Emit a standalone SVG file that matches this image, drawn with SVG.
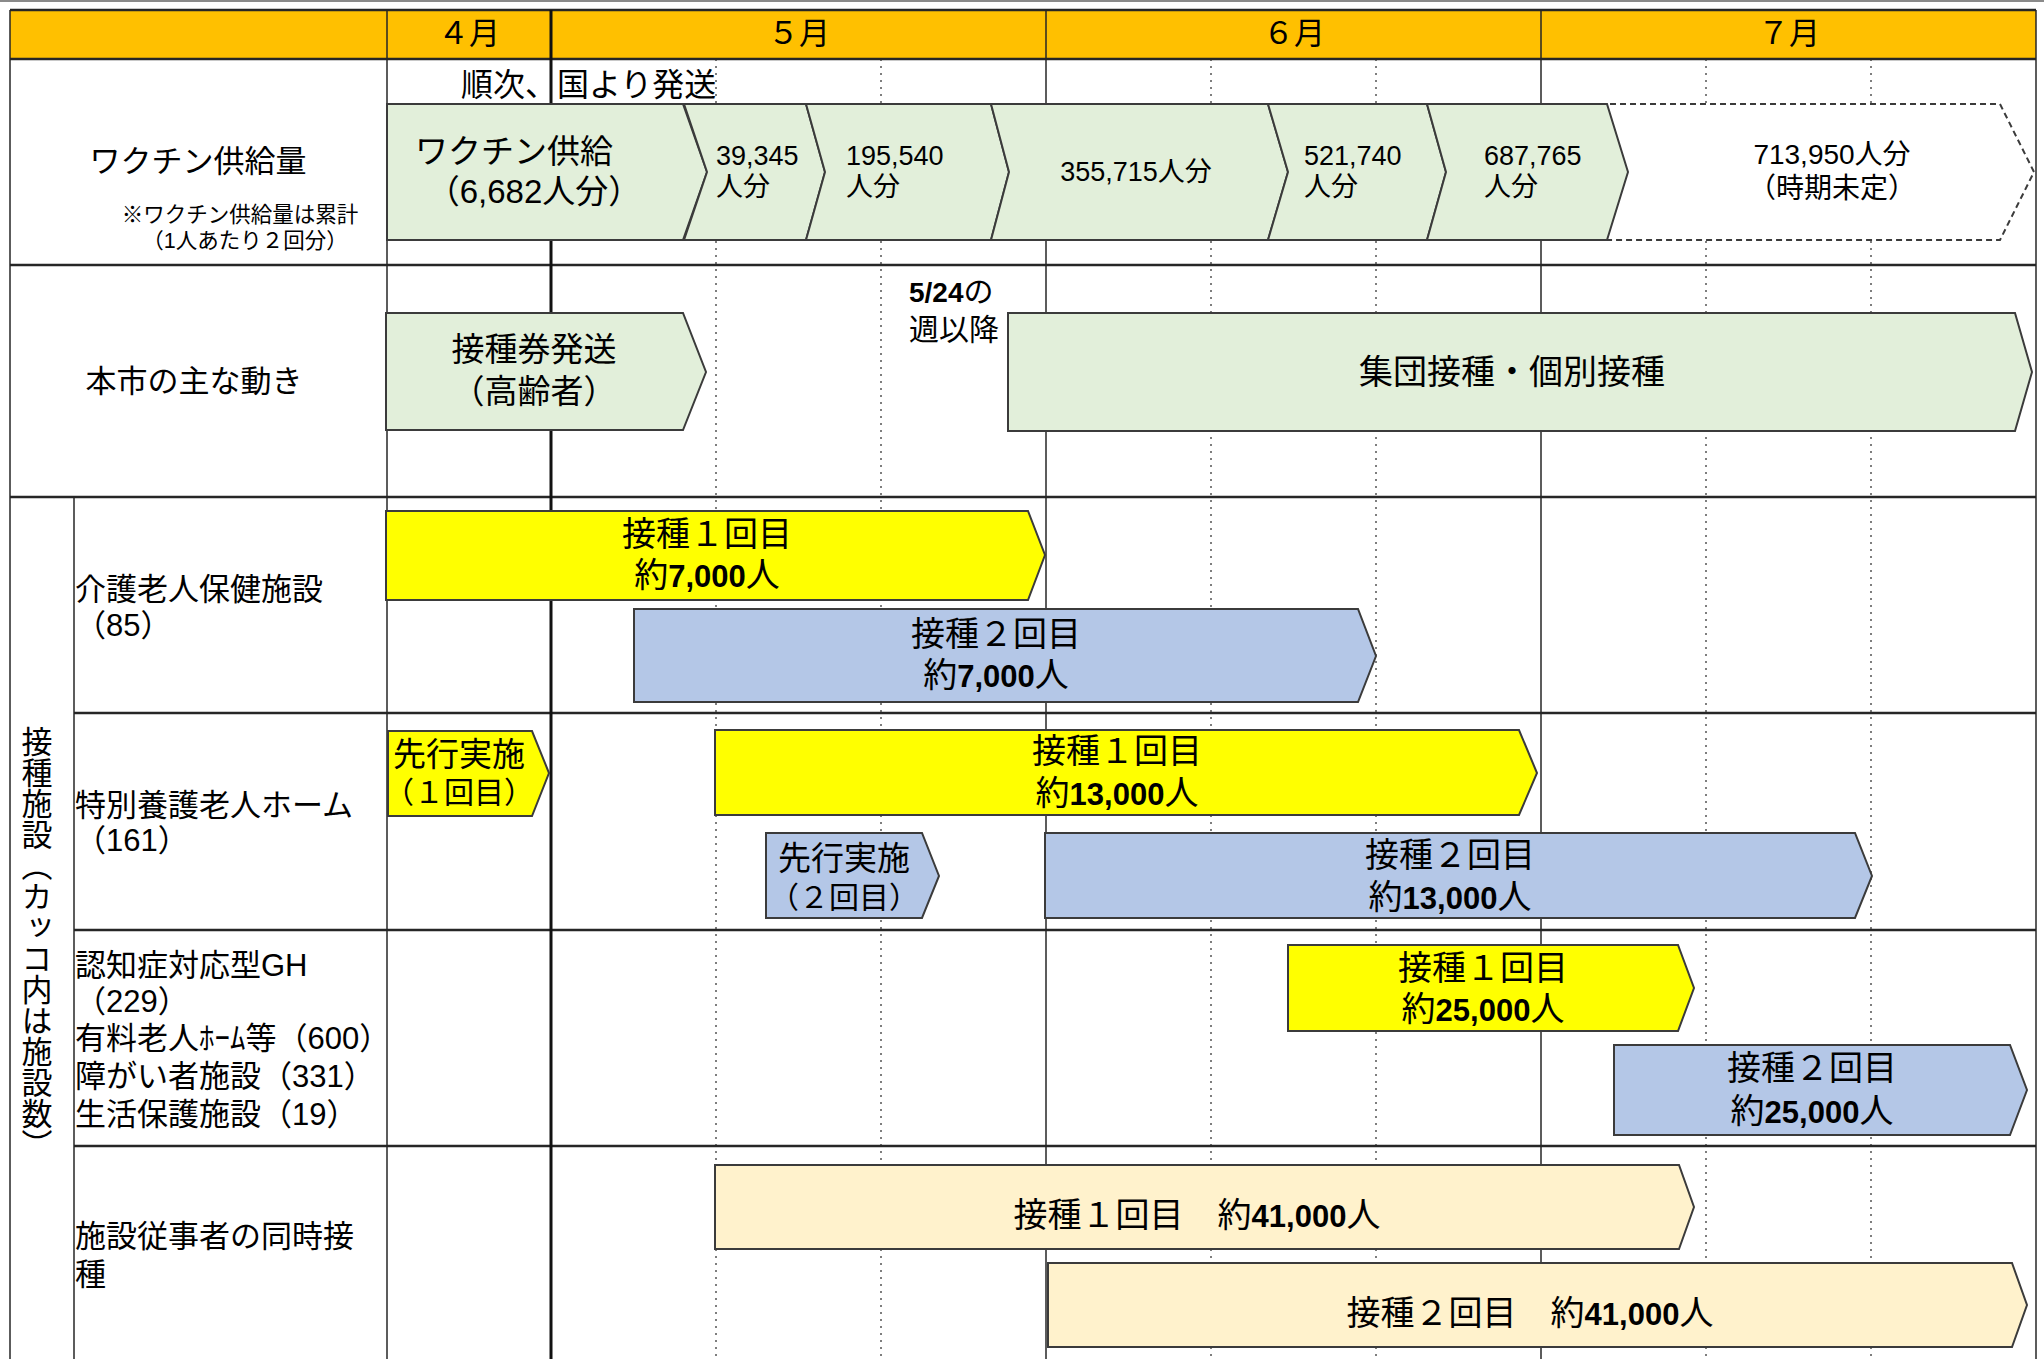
<svg xmlns="http://www.w3.org/2000/svg" width="2044" height="1359" viewBox="0 0 2044 1359">
<style>
text{font-family:"Liberation Sans","Noto Sans CJK JP","Noto Sans CJK SC",sans-serif;fill:#000}
.m{text-anchor:middle}
.hd{font-size:31px}
.lb{font-size:31px}
.note{font-size:21.5px}
.sm{font-size:27px}
.bx{font-size:34px}
.b{font-weight:700}
.dg{font-size:31px}
.h{stroke:#262626;stroke-width:2.5}
.v{stroke:#262626;stroke-width:1.5}
.dot{stroke:#3a3a3a;stroke-width:1.3;stroke-dasharray:2 5}
.sh{stroke:#3b3b3b;stroke-width:2}
.gr{fill:#E2EFDA}
.ye{fill:#FFFF00}
.bl{fill:#B4C7E7}
.cr{fill:#FFF2CC}
.vt{font-size:31px;writing-mode:vertical-rl;font-family:"Noto Sans CJK JP",sans-serif}
</style>
<rect width="2044" height="1359" fill="#fff"/>
<g id="grid">
 <line x1="0" y1="1" x2="2044" y2="1" stroke="#8a8a8a" stroke-width="2"/>
 <rect x="10" y="10" width="2026" height="49" fill="#FFC000"/>
 <g class="dot">
  <line x1="716" y1="59" x2="716" y2="1359"/>
  <line x1="881" y1="59" x2="881" y2="1359"/>
  <line x1="1211" y1="59" x2="1211" y2="1359"/>
  <line x1="1376" y1="59" x2="1376" y2="1359"/>
  <line x1="1706" y1="59" x2="1706" y2="1359"/>
  <line x1="1871" y1="59" x2="1871" y2="1359"/>
 </g>
 <g class="h">
  <line x1="10" y1="10" x2="2036" y2="10"/>
  <line x1="10" y1="59" x2="2036" y2="59"/>
  <line x1="10" y1="265" x2="2036" y2="265"/>
  <line x1="10" y1="497" x2="2036" y2="497"/>
  <line x1="74" y1="713" x2="2036" y2="713"/>
  <line x1="74" y1="930" x2="2036" y2="930"/>
  <line x1="74" y1="1146" x2="2036" y2="1146"/>
 </g>
 <g class="v">
  <line x1="10" y1="10" x2="10" y2="1359"/>
  <line x1="2036" y1="10" x2="2036" y2="1359"/>
  <line x1="74" y1="497" x2="74" y2="1359"/>
  <line x1="387" y1="10" x2="387" y2="1359"/>
  <line x1="1046" y1="10" x2="1046" y2="1359"/>
  <line x1="1541" y1="10" x2="1541" y2="1359"/>
 </g>
 <line x1="551" y1="10" x2="551" y2="1359" stroke="#111" stroke-width="3"/>
</g>
<g id="header">
 <text class="hd m" x="469" y="44">４月</text>
 <text class="hd m" x="799" y="44">５月</text>
 <text class="hd m" x="1294" y="44">６月</text>
 <text class="hd m" x="1789" y="44">７月</text>
</g>
<g id="row-labels">
 <text class="lb m" x="198" y="172">ワクチン供給量</text>
 <text class="note m" x="240" y="222">※ワクチン供給量は累計<tspan x="245" dy="26">（1人あたり２回分）</tspan></text>
 <text class="lb m" x="194" y="392">本市の主な動き</text>
 <text class="vt" x="37" y="726">接種施設（カッコ内は施設数）</text>
 <text class="lb" x="75" y="600">介護老人保健施設<tspan x="75" dy="36">（85）</tspan></text>
 <text class="lb" x="75" y="816">特別養護老人ホーム<tspan x="75" dy="35">（161）</tspan></text>
 <text class="lb" x="75" y="976">認知症対応型GH<tspan x="75" dy="36">（229）</tspan><tspan x="75" dy="37">有料老人ﾎｰﾑ等（600）</tspan><tspan x="75" dy="38">障がい者施設（331）</tspan><tspan x="75" dy="38">生活保護施設（19）</tspan></text>
 <text class="lb" x="75" y="1247">施設従事者の同時接<tspan x="75" dy="38">種</tspan></text>
</g>
<g id="shipping-note">
 <text x="461" y="96" style="font-size:32px">順次、国より発送</text>
</g>
<g id="supply-future">
 <polygon points="1560,104 2000,104 2034,172 2000,240 1560,240" fill="#fff" stroke="#3b3b3b" stroke-width="2" stroke-dasharray="6 4"/>
 <text class="m" x="1832" y="164" style="font-size:28px">713,950人分<tspan x="1832" dy="34">（時期未定）</tspan></text>
</g>
<g id="supply-initial">
 <polygon class="sh gr" points="387,104 683,104 707,172 683,240 387,240"/>
 <text class="m" x="514" y="163" style="font-size:33px">ワクチン供給<tspan x="534" dy="40">（6,682人分）</tspan></text>
</g>
<g id="supply-39345">
 <polygon class="sh gr" points="684,104 806,104 825,172 806,240 684,240 707,172"/>
 <text class="sm" x="716" y="165">39,345<tspan x="716" dy="31">人分</tspan></text>
</g>
<g id="supply-195540">
 <polygon class="sh gr" points="806,104 991,104 1009,172 991,240 806,240 825,172"/>
 <text class="sm" x="846" y="165">195,540<tspan x="846" dy="31">人分</tspan></text>
</g>
<g id="supply-355715">
 <polygon class="sh gr" points="991,104 1268,104 1288,172 1268,240 991,240 1009,172"/>
 <text class="sm m" x="1136" y="181">355,715人分</text>
</g>
<g id="supply-521740">
 <polygon class="sh gr" points="1268,104 1427,104 1446,172 1427,240 1268,240 1288,172"/>
 <text class="sm" x="1304" y="165">521,740<tspan x="1304" dy="31">人分</tspan></text>
</g>
<g id="supply-687765">
 <polygon class="sh gr" points="1427,104 1607,104 1628,172 1607,240 1427,240 1446,172"/>
 <text class="sm" x="1484" y="165">687,765<tspan x="1484" dy="31">人分</tspan></text>
</g>
<g id="ticket-mailing">
 <polygon class="sh gr" points="386,313 683,313 706,372 683,430 386,430"/>
 <text class="m" x="534" y="361" style="font-size:33px">接種券発送<tspan x="534" dy="42">（高齢者）</tspan></text>
</g>
<g id="week-note">
 <text x="909" y="302" style="font-size:30px"><tspan class="b" style="font-size:28px">5/24</tspan>の<tspan x="909" dy="38">週以降</tspan></text>
</g>
<g id="mass-vaccination">
 <polygon class="sh gr" points="1008,313 2015,313 2032,372 2015,431 1008,431"/>
 <text class="bx m" x="1512" y="384">集団接種・個別接種</text>
</g>
<g id="roken-dose1">
 <polygon class="sh ye" points="386,511 1028,511 1045,555 1028,600 386,600"/>
 <text class="bx m" x="707" y="546">接種１回目<tspan x="707" dy="41">約</tspan><tspan class="b dg">7,000</tspan>人</text>
</g>
<g id="roken-dose2">
 <polygon class="sh bl" points="634,609 1358,609 1376,656 1358,702 634,702"/>
 <text class="bx m" x="996" y="646">接種２回目<tspan x="996" dy="41">約</tspan><tspan class="b dg">7,000</tspan>人</text>
</g>
<g id="tokuyo-pre1">
 <polygon class="sh ye" points="388,731 532,731 549,773 532,816 388,816"/>
 <text class="m" x="459" y="766" style="font-size:33px">先行実施<tspan x="459" dy="37" style="font-size:30px">（１回目）</tspan></text>
</g>
<g id="tokuyo-dose1">
 <polygon class="sh ye" points="715,730 1519,730 1537,773 1519,815 715,815"/>
 <text class="bx m" x="1117" y="763">接種１回目<tspan x="1117" dy="42">約</tspan><tspan class="b dg">13,000</tspan>人</text>
</g>
<g id="tokuyo-pre2">
 <polygon class="sh bl" points="766,833 922,833 939,876 922,918 766,918"/>
 <text class="m" x="844" y="870" style="font-size:33px">先行実施<tspan x="844" dy="38" style="font-size:30px">（２回目）</tspan></text>
</g>
<g id="tokuyo-dose2">
 <polygon class="sh bl" points="1045,833 1855,833 1872,876 1855,918 1045,918"/>
 <text class="bx m" x="1450" y="867">接種２回目<tspan x="1450" dy="42">約</tspan><tspan class="b dg">13,000</tspan>人</text>
</g>
<g id="other-dose1">
 <polygon class="sh ye" points="1288,945 1678,945 1694,988 1678,1031 1288,1031"/>
 <text class="bx m" x="1483" y="980">接種１回目<tspan x="1483" dy="41">約</tspan><tspan class="b dg">25,000</tspan>人</text>
</g>
<g id="other-dose2">
 <polygon class="sh bl" points="1614,1045 2010,1045 2027,1090 2010,1135 1614,1135"/>
 <text class="bx m" x="1812" y="1080">接種２回目<tspan x="1812" dy="43">約</tspan><tspan class="b dg">25,000</tspan>人</text>
</g>
<g id="staff-dose1">
 <polygon class="sh cr" points="715,1165 1679,1165 1694,1207 1679,1249 715,1249"/>
 <text class="bx m" x="1197" y="1227">接種１回目　約<tspan class="b dg">41,000</tspan>人</text>
</g>
<g id="staff-dose2">
 <polygon class="sh cr" points="1048,1263 2012,1263 2027,1305 2012,1347 1048,1347"/>
 <text class="bx m" x="1530" y="1325">接種２回目　約<tspan class="b dg">41,000</tspan>人</text>
</g>
<g id="connectors"/>
</svg>
